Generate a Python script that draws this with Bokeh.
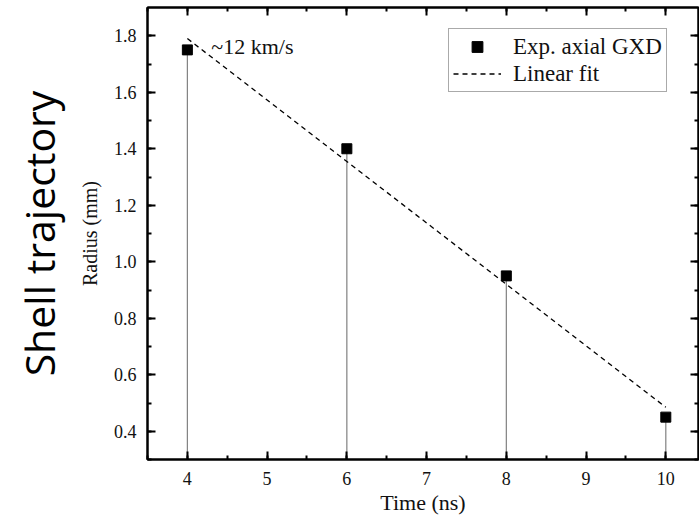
from bokeh.plotting import figure
from bokeh.models import (ColumnDataSource, LinearAxis, Legend, LegendItem,
                          Title, Range1d, SingleIntervalTicker,
                          NumeralTickFormatter, CustomJSTickFormatter)
from bokeh.core.properties import value
from bokeh.embed import file_html
from bokeh.resources import INLINE

# Measured shell radius vs. time
time_ns = [4, 6, 8, 10]
radius_mm = [1.75, 1.40, 0.95, 0.45]

# Linear fit evaluated at the first and last time
fit_time = [4, 10]
fit_radius = [1.79, 0.485]

baseline = 0.3
speed_note = "~12 km/s"

SERIF = "Liberation Serif"

p = figure(width=699, height=515, output_backend="svg", toolbar_location=None,
           x_range=Range1d(3.5, 10.41), y_range=Range1d(baseline, 1.9),
           min_border_left=147, min_border_right=1, min_border_top=7,
           min_border_bottom=56, y_axis_label="Radius (mm)")
p.background_fill_color = "white"
p.border_fill_color = "white"
p.xgrid.visible = False
p.ygrid.visible = False
p.outline_line_color = "black"
p.outline_line_width = 2

x_ticker = SingleIntervalTicker(interval=1, num_minor_ticks=2)
y_ticker = SingleIntervalTicker(interval=0.2, num_minor_ticks=2)
blank = CustomJSTickFormatter(code="return ''")


def style_axis(ax, ticker, show_labels=True):
    ax.ticker = ticker
    ax.axis_line_color = "black"
    ax.axis_line_width = 2
    ax.major_tick_line_color = "black"
    ax.major_tick_line_width = 2
    ax.minor_tick_line_color = "black"
    ax.minor_tick_line_width = 2
    ax.major_tick_in = 8
    ax.major_tick_out = 0
    ax.minor_tick_in = 4
    ax.minor_tick_out = 0
    if show_labels:
        ax.major_label_text_font = SERIF
        ax.major_label_text_font_size = "18px"
        ax.major_label_text_color = "#111111"
        ax.major_label_standoff = 11
        ax.axis_label_text_font = SERIF
        ax.axis_label_text_font_style = "normal"
        ax.axis_label_text_color = "#111111"
    else:
        ax.formatter = blank
        ax.major_label_standoff = 0
        ax.axis_label = None


style_axis(p.xaxis[0], x_ticker)
style_axis(p.yaxis[0], y_ticker)
p.xaxis[0].major_label_standoff = 12
p.yaxis[0].formatter = NumeralTickFormatter(format="0.0")
p.yaxis[0].axis_label_text_font_size = "20px"
p.yaxis[0].axis_label_standoff = 10

top_axis = LinearAxis()
style_axis(top_axis, x_ticker, show_labels=False)
p.add_layout(top_axis, "above")
right_axis = LinearAxis()
style_axis(right_axis, y_ticker, show_labels=False)
p.add_layout(right_axis, "right")

# Time axis title, stacked below the tick labels
p.add_layout(Title(text="Time (ns)", text_font=SERIF, text_font_size="22px",
                   text_font_style="normal", text_color="#111111",
                   align="center", standoff=0, offset=4), "below")

# Side caption
p.add_layout(Title(text="Shell trajectory", text_font="Open Sans",
                   text_font_size="41px", text_font_style="normal",
                   text_color="black", align="center", standoff=17), "left")

src = ColumnDataSource(dict(t=time_ns, r=radius_mm, b=[baseline] * len(time_ns)))

# Drop lines from each point to the time axis
p.segment(x0="t", y0="r", x1="t", y1="b", source=src,
          line_color="#808080", line_width=1.2)

fit = p.line(fit_time, fit_radius, line_color="black", line_width=1.3,
             line_dash="5 4")
pts = p.scatter("t", "r", source=src, marker="square", size=10,
                fill_color="black", line_color="black")

p.text(x=[4.3], y=[1.762], text=[speed_note], text_font=value(SERIF),
       text_font_size="22px", text_baseline="middle", text_align="left",
       text_color="#111111")

legend = Legend(items=[LegendItem(label="Exp. axial GXD", renderers=[pts]),
                       LegendItem(label="Linear fit", renderers=[fit])],
                location=(301, 367))
legend.label_text_font = SERIF
legend.label_text_font_size = "23px"
legend.label_text_color = "#111111"
legend.border_line_color = "#555555"
legend.border_line_width = 1
legend.background_fill_alpha = 1
legend.glyph_width = 48
legend.glyph_height = 27
legend.label_height = 27
legend.label_standoff = 12
legend.padding = 4
legend.spacing = 0
legend.margin = 0
p.add_layout(legend, "center")

open("out.html", "w").write(file_html(p, INLINE))
